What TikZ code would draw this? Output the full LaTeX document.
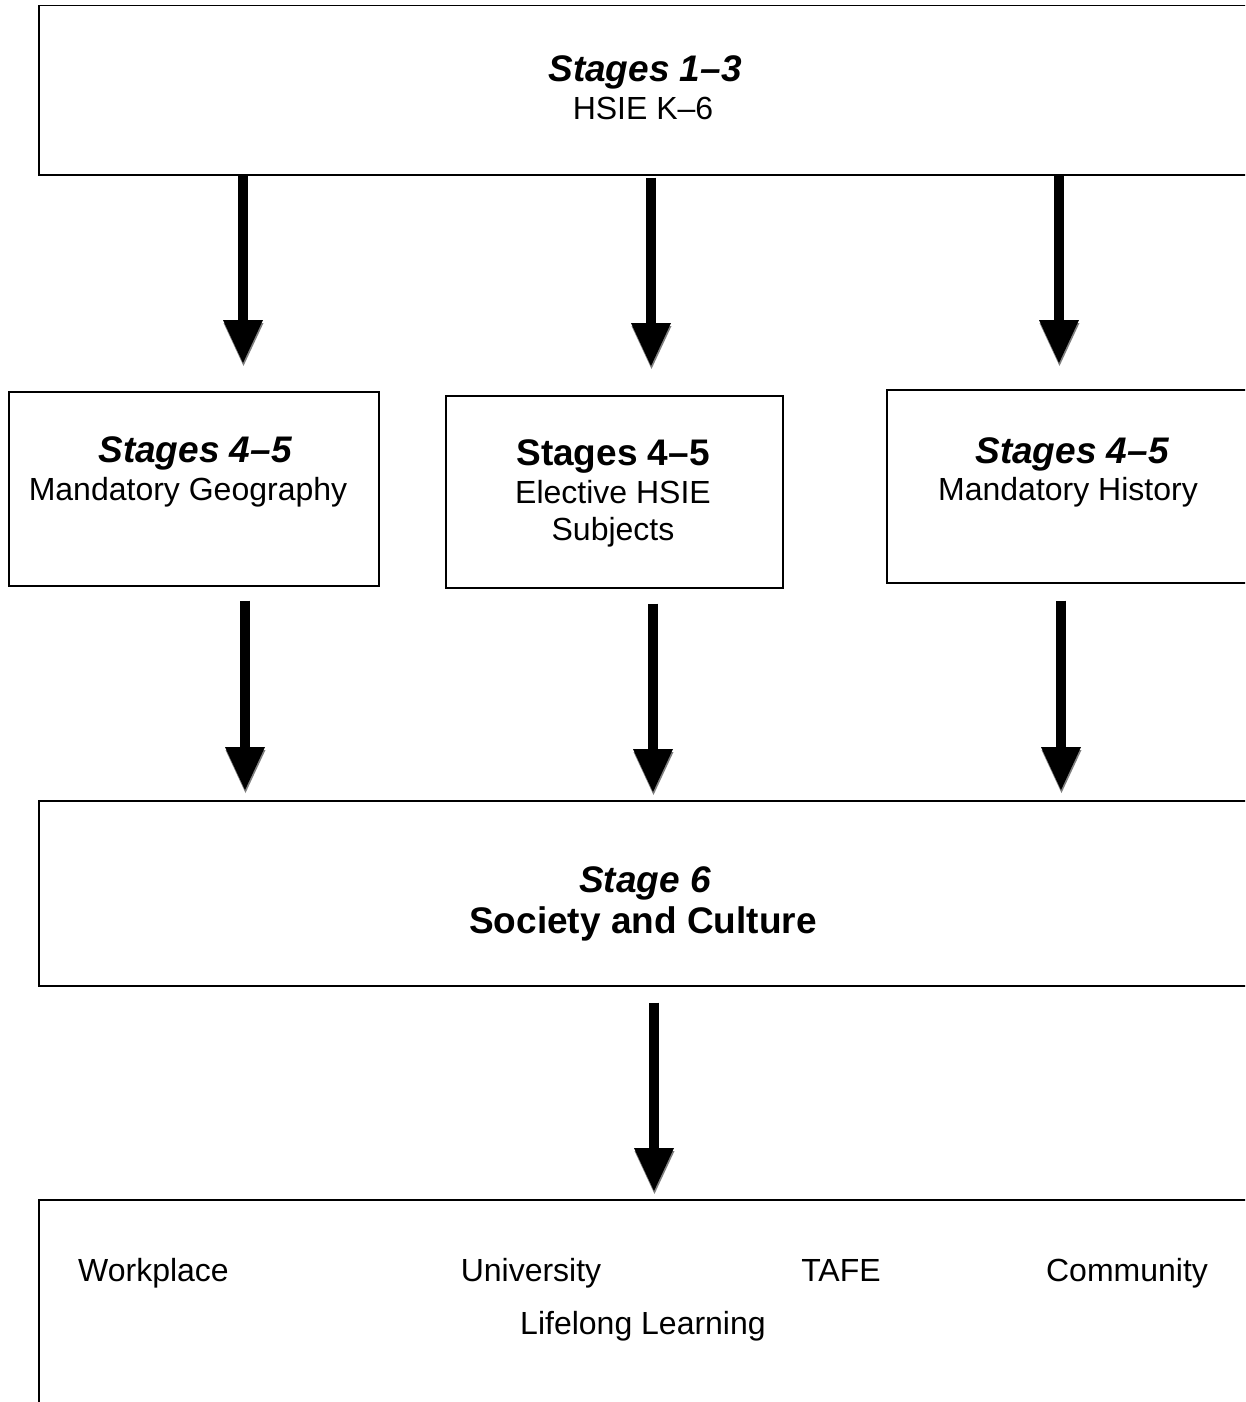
\documentclass[tikz,border=0pt]{standalone}
\usepackage{fontspec}
\setmainfont{Liberation Sans}
\usetikzlibrary{calc}

\definecolor{shadowgray}{HTML}{7F7F7F}

\tikzset{
  box/.style={draw, line width=1.5pt, inner sep=0pt, anchor=north west},
  headit/.style={font=\fontsize{37}{44}\selectfont\bfseries\itshape, anchor=base, inner sep=0pt},
  headup/.style={font=\fontsize{37}{44}\selectfont\bfseries, anchor=base, inner sep=0pt},
  body/.style={font=\fontsize{32}{38}\selectfont, anchor=base, inner sep=0pt},
  shaft/.style={line width=10pt},
}

% thick block arrow with a grey drop shadow under its head: #1 start, #2 tip
\newcommand{\flowarrow}[2]{%
  \fill[shadowgray] ($(#2)+(0.5,3)$) -- ($(#2)+(-19.5,-40)$) -- ($(#2)+(20.5,-40)$) -- cycle;
  \draw[shaft] (#1) -- ($(#2)+(0,-42)$);
  \fill (#2) -- ($(#2)+(-20,-43)$) -- ($(#2)+(20,-43)$) -- cycle;
}

\begin{document}
\begin{tikzpicture}[x=1pt,y=-1pt]
\useasboundingbox (0,0) rectangle (1245,1402);
\clip (0,0) rectangle (1245,1402);

% boxes
\node[box, minimum width=1214pt, minimum height=169pt] (top) at (38,5) {};
\node[box, minimum width=370pt, minimum height=194pt] (geo) at (8,391) {};
\node[box, minimum width=337pt, minimum height=192pt] (elec) at (445,395) {};
\node[box, minimum width=380pt, minimum height=193pt] (hist) at (886,389) {};
\node[box, minimum width=1214pt, minimum height=185pt] (six) at (38,800) {};
\node[box, minimum width=1214pt, minimum height=260pt] (out) at (38,1199) {};

% texts
\node[headit] (t1a) at (645,82) {Stages 1–3};
\node[body]   (t1b) at (643,120) {HSIE K–6};

\node[headit] (g1) at (195,462) {Stages 4–5};
\node[body]   (g2) at (188,500) {Mandatory Geography};

\node[headup] (e1) at (613,465) {Stages 4–5};
\node[body]   (e2) at (613,503) {Elective HSIE};
\node[body]   (e3) at (613,540) {Subjects};

\node[headit] (h1) at (1072,463) {Stages 4–5};
\node[body]   (h2) at (1068,500) {Mandatory History};

\node[headit] (s1) at (645,892) {Stage 6};
\node[headup] (s2) at (643,933) {Society and Culture};

\node[body] (o1) at (153.5,1281) {Workplace};
\node[body] (o2) at (531,1281) {University};
\node[body] (o3) at (841,1281) {TAFE};
\node[body] (o4) at (1127,1281) {Community};
\node[body] (o5) at (643,1334) {Lifelong Learning};

% arrow columns
\coordinate (xa) at (243,0);
\coordinate (xb) at (651,0);
\coordinate (xc) at (1059,0);
\coordinate (xd) at (245,0);
\coordinate (xe) at (653,0);
\coordinate (xf) at (1061,0);
\coordinate (xg) at (654,0);

% connectors
\flowarrow{$(top.south -| xa)+(0,0)$}{$(geo.north -| xa)+(0,-28)$}
\flowarrow{$(top.south -| xb)+(0,2)$}{$(elec.north -| xb)+(0,-29)$}
\flowarrow{$(top.south -| xc)+(0,0)$}{$(hist.north -| xc)+(0,-26)$}
\flowarrow{$(geo.south -| xd)+(0,14)$}{$(six.north -| xd)+(0,-10)$}
\flowarrow{$(elec.south -| xe)+(0,15)$}{$(six.north -| xe)+(0,-8)$}
\flowarrow{$(hist.south -| xf)+(0,17)$}{$(six.north -| xf)+(0,-10)$}
\flowarrow{$(six.south -| xg)+(0,16)$}{$(out.north -| xg)+(0,-8)$}
\end{tikzpicture}
\end{document}
